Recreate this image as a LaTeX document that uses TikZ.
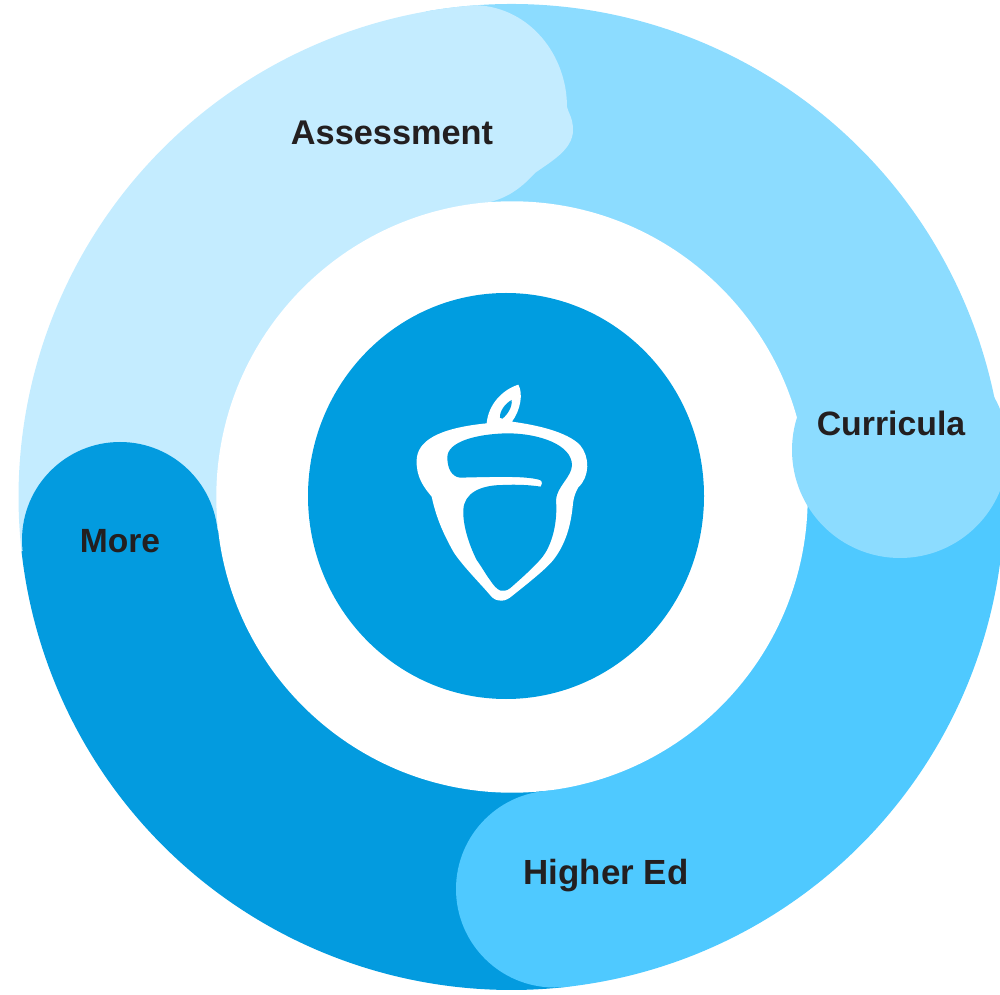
\documentclass[tikz,border=0pt]{standalone}
\usepackage{fontspec}
\setmainfont{Liberation Sans}
\definecolor{cAssess}{HTML}{C4ECFF}
\definecolor{cCurr}{HTML}{8CDCFF}
\definecolor{cHigher}{HTML}{4FC9FF}
\definecolor{cMore}{HTML}{039BDF}
\definecolor{cCentre}{HTML}{009DE0}
\definecolor{cLabel}{HTML}{231F20}
\tikzset{
  lbl/.style={font=\bfseries\fontsize{#1}{40}\selectfont, text=cLabel, anchor=base, inner sep=0pt},
}
\begin{document}
\begin{tikzpicture}[x=1pt,y=1pt]
\useasboundingbox (0,0) rectangle (1000,994);
\clip (0,0) rectangle (1000,994);
\coordinate (c) at (511.5,497);
% ring sectors, clockwise from the top
\fill[cCurr]   (c) -- ([shift={(100:493)}]c)   arc[start angle=100,end angle=7,radius=493] -- cycle;
\fill[cHigher] (c) -- ([shift={(7:493)}]c)     arc[start angle=7,end angle=-83.6,radius=493] -- cycle;
\fill[cMore]   (c) -- ([shift={(-83.6:493)}]c) arc[start angle=-83.6,end angle=-173.7,radius=493] -- cycle;
\fill[cAssess] (c) -- ([shift={(186.3:493)}]c) arc[start angle=186.3,end angle=94,radius=493] -- cycle;
\begin{scope}[shift={(0pt,994pt)},y=-1pt]
  % Assessment end cap
  \fill[cAssess] (477,5.2) .. controls (530,8) and (567,55) .. (567,107)
     .. controls (568,112) and (573,118) .. (573,130)
     .. controls (573,150) and (550,162) .. (535,173)
     .. controls (523,186) and (510,197) .. (490,202)
     -- (490,260) -- (455,260) -- cycle;
  % hole of the ring
  \fill[white] (512,497) circle[radius=295.7];
  % end caps
  \fill[cCurr]   (900,450) circle[radius=108];
  \fill[cHigher] (554.5,889) circle[radius=98.5];
  \fill[cMore]   (120,540) circle[radius=98];
  % centre disc
  \fill[cCentre] (506,496) ellipse[x radius=198,y radius=203];
  % acorn
  \begin{scope}[shift={(390,370)},x=0.3333pt,y=-0.3333pt]
    \fill[white] (290,160) .. controls (295,105) and (335,60) .. (385,44)
      .. controls (400,70) and (392,120) .. (366,155)
      .. controls (440,165) and (530,185) .. (570,225)
      .. controls (600,260) and (600,320) .. (565,352)
      .. controls (552,375) and (550,390) .. (548,410)
      .. controls (542,470) and (525,525) .. (490,570)
      .. controls (470,595) and (420,635) .. (370,675)
      .. controls (355,688) and (345,692) .. (335,692)
      .. controls (320,692) and (310,688) .. (300,675)
      .. controls (275,645) and (215,585) .. (190,545)
      .. controls (165,500) and (140,450) .. (125,380)
      .. controls (100,350) and (78,320) .. (80,270)
      .. controls (82,215) and (140,175) .. (290,160) -- cycle;
    \fill[cCentre] (330,143) .. controls (328,125) and (345,100) .. (365,90)
      .. controls (368,110) and (352,135) .. (337,146) -- cycle;
    \fill[cCentre] (172,262) .. controls (172,215) and (260,192) .. (350,190)
      .. controls (450,190) and (545,225) .. (546,285)
      .. controls (546,320) and (500,350) .. (498,390)
      .. controls (503,450) and (490,510) .. (465,550)
      .. controls (450,575) and (400,620) .. (360,655)
      .. controls (350,662) and (340,664) .. (332,662)
      .. controls (320,658) and (310,645) .. (300,630)
      .. controls (285,610) and (275,590) .. (260,570)
      .. controls (240,530) and (218,470) .. (220,420)
      .. controls (222,370) and (270,345) .. (340,345)
      .. controls (380,343) and (420,345) .. (452,350)
      .. controls (458,345) and (458,335) .. (450,330)
      .. controls (410,318) and (330,320) .. (210,323)
      .. controls (185,320) and (172,295) .. (172,262) -- cycle;
  \end{scope}
  % labels
  \node[lbl=34.3] (assessment) at (392,145) {Assessment};
  \node[lbl=33.8] (curricula)  at (891,435.5) {Curricula};
  \node[lbl=34.9] (higher)     at (606,884) {Higher Ed};
  \node[lbl=33.6] (more)       at (120,552) {More};
\end{scope}
\end{tikzpicture}
\end{document}
